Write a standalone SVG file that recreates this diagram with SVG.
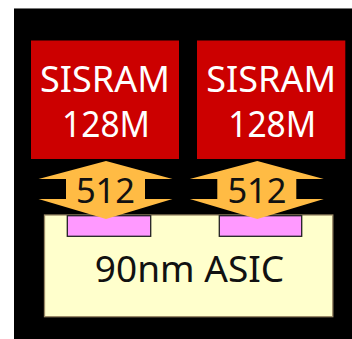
<svg xmlns="http://www.w3.org/2000/svg" width="352" height="339" viewBox="0 0 352 339">
<style>
.ram{fill:#CC0000}
.ramt{fill:#FFFFFF;font-family:"Noto Sans","DejaVu Sans",sans-serif;font-size:36px;text-anchor:middle}
.arrow{fill:#FFBB44}
.bw{fill:#111111;font-family:"Noto Sans","DejaVu Sans",sans-serif;font-size:34.5px;text-anchor:middle}
.pad{fill:#FF99FF;stroke:#222222;stroke-width:1.3}
.asic{fill:#FFFFCC;stroke:#998866;stroke-width:1.3}
.asict{fill:#111111;font-family:"Noto Sans","DejaVu Sans",sans-serif;font-size:37px;text-anchor:middle}
</style>
<rect x="0" y="0" width="352" height="339" fill="#FFFFFF"/>
<rect x="14" y="8" width="340" height="335" fill="#000000"/>
<line x1="14" y1="8.5" x2="352" y2="8.5" stroke="#777777" stroke-width="1"/>
<g id="asic">
<rect class="asic" x="44.5" y="215" width="288.3" height="101.7"/>
<text class="asict" x="189.5" y="281.7">90nm ASIC</text>
</g>
<g id="pad1"><rect class="pad" x="67.3" y="215.7" width="83.4" height="20.6"/></g>
<g id="pad2"><rect class="pad" x="219.3" y="215.7" width="82.4" height="20.6"/></g>
<g id="ram1">
<rect class="ram" x="31" y="40.5" width="148" height="118.5"/>
<text class="ramt" x="105" y="91.7">SISRAM</text>
<text class="ramt" x="106" y="136.7" textLength="88" lengthAdjust="spacingAndGlyphs">128M</text>
</g>
<g id="ram2">
<rect class="ram" x="197" y="40.5" width="148.3" height="118.5"/>
<text class="ramt" x="271.2" y="91.7">SISRAM</text>
<text class="ramt" x="272.2" y="136.7" textLength="88" lengthAdjust="spacingAndGlyphs">128M</text>
</g>
<g id="connectors">
<g id="bus1">
<polygon class="arrow" points="106,161 172.5,179 145,179 145,199 172.5,199 106,219 38.5,199 66,199 66,179 38.5,179"/>
<text class="bw" x="105.5" y="203.3">512</text>
</g>
<g id="bus2">
<polygon class="arrow" points="257.3,161 323.8,179 296.3,179 296.3,199 323.8,199 257.3,219 189.8,199 217.3,199 217.3,179 189.8,179"/>
<text class="bw" x="257" y="203.3">512</text>
</g>
</g>
</svg>
